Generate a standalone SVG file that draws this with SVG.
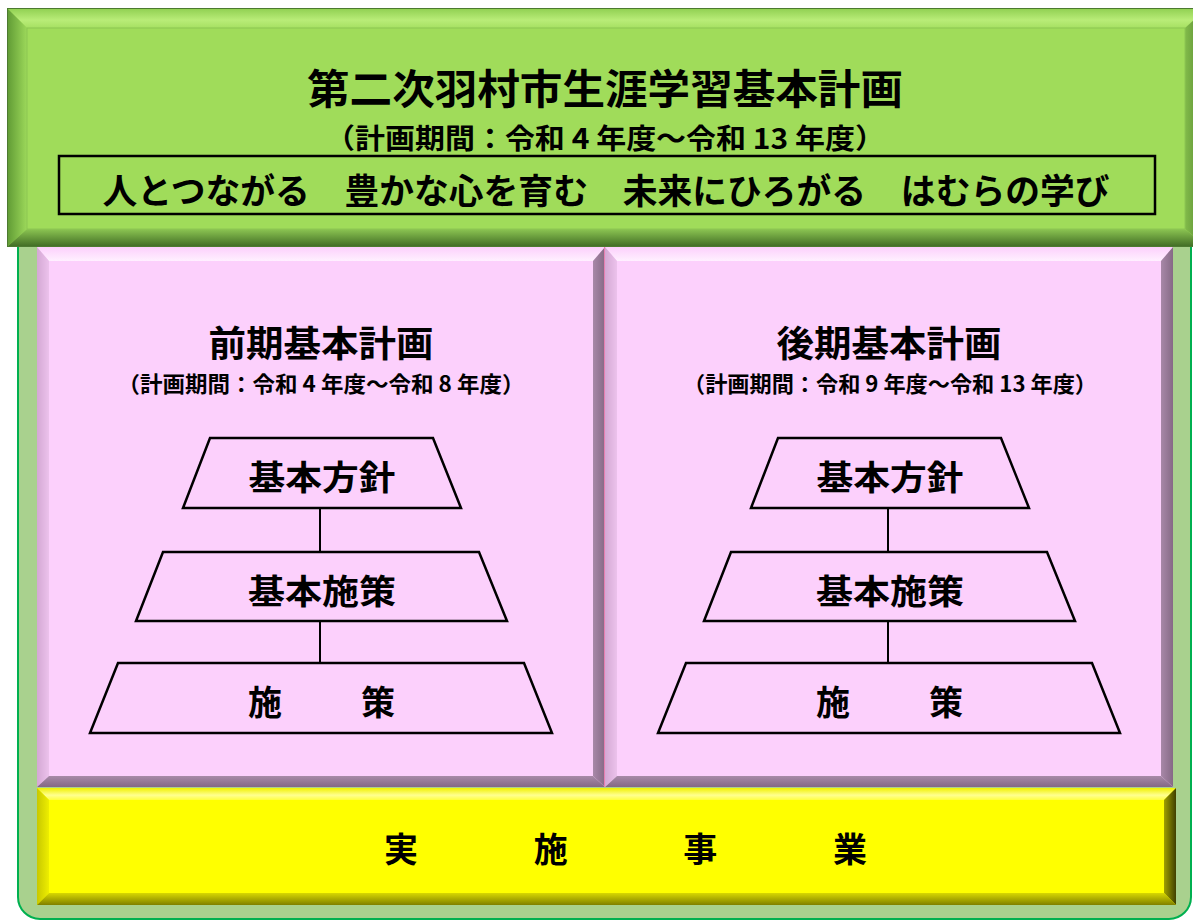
<svg xmlns="http://www.w3.org/2000/svg" width="1193" height="921" viewBox="0 0 1193 921">
<style>
text{font-family:"Noto Sans CJK JP","Noto Sans",sans-serif;font-weight:bold;fill:#000;dominant-baseline:central;text-anchor:middle}
.trap{fill:none;stroke:#000;stroke-width:2.5}
.conn line{stroke:#000;stroke-width:2}
</style>
<defs>
<linearGradient id="gTop" x1="0" y1="0" x2="0" y2="1"><stop offset="0" stop-color="#8fcf50"/><stop offset="0.6" stop-color="#b9ec78"/><stop offset="1" stop-color="#a6e062"/></linearGradient>
<linearGradient id="gBot" x1="0" y1="0" x2="0" y2="1"><stop offset="0" stop-color="#8cc552"/><stop offset="1" stop-color="#3f6a24"/></linearGradient>
<linearGradient id="gLeft" x1="0" y1="0" x2="1" y2="0"><stop offset="0" stop-color="#5f9a34"/><stop offset="1" stop-color="#9cd85a"/></linearGradient>
<linearGradient id="gRight" x1="0" y1="0" x2="1" y2="0"><stop offset="0" stop-color="#82bb4a"/><stop offset="1" stop-color="#4f7f2e"/></linearGradient>
<linearGradient id="pTop" x1="0" y1="0" x2="0" y2="1"><stop offset="0" stop-color="#fcd0fc"/><stop offset="1" stop-color="#fff0ff"/></linearGradient>
<linearGradient id="pLeft" x1="0" y1="0" x2="1" y2="0"><stop offset="0" stop-color="#d4a8d4"/><stop offset="1" stop-color="#ecc2ec"/></linearGradient>
<linearGradient id="pRight" x1="0" y1="0" x2="1" y2="0"><stop offset="0" stop-color="#a888a8"/><stop offset="1" stop-color="#866a86"/></linearGradient>
<linearGradient id="pBot" x1="0" y1="0" x2="0" y2="1"><stop offset="0" stop-color="#a88aa8"/><stop offset="1" stop-color="#846884"/></linearGradient>
<linearGradient id="yTop" x1="0" y1="0" x2="0" y2="1"><stop offset="0" stop-color="#f0f000"/><stop offset="0.6" stop-color="#ffff90"/><stop offset="1" stop-color="#ffff40"/></linearGradient>
<linearGradient id="yLeft" x1="0" y1="0" x2="1" y2="0"><stop offset="0" stop-color="#c8c800"/><stop offset="1" stop-color="#eeee00"/></linearGradient>
<linearGradient id="yRight" x1="0" y1="0" x2="1" y2="0"><stop offset="0" stop-color="#a0a000"/><stop offset="1" stop-color="#404000"/></linearGradient>
<linearGradient id="yBot" x1="0" y1="0" x2="0" y2="1"><stop offset="0" stop-color="#d8d800"/><stop offset="1" stop-color="#808000"/></linearGradient>
</defs>

<g id="outer-frame">
<rect x="18" y="200" width="1173" height="719" rx="22" ry="22" fill="#a9d18e" stroke="#00b050" stroke-width="2"/>
</g>

<g id="header">
<rect x="7" y="8" width="1200" height="239" fill="#a0dc5a"/>
<polygon points="7,8 1207,8 1187,28 27,28" fill="url(#gTop)"/>
<polygon points="7,8 27,28 27,229 7,247" fill="url(#gLeft)"/>
<polygon points="1207,8 1207,247 1185,229 1185,28" fill="url(#gRight)"/>
<polygon points="7,247 27,229 1185,229 1207,247" fill="url(#gBot)"/>
<rect x="27" y="28" width="1158" height="201" fill="#a0dc5a" stroke="#8cc652" stroke-width="1"/>
<rect x="7.5" y="8.5" width="1200" height="238" fill="none" stroke="#4c7a30" stroke-width="1"/>
<text x="605" y="86" font-size="41" textLength="596" lengthAdjust="spacingAndGlyphs">第二次羽村市生涯学習基本計画</text>
<text x="605" y="137" font-size="28" textLength="560" lengthAdjust="spacingAndGlyphs">（計画期間：令和 4 年度～令和 13 年度）</text>
<rect x="59" y="156" width="1096" height="58" fill="none" stroke="#000" stroke-width="2.5"/>
<text x="606" y="188" font-size="35" textLength="1007" lengthAdjust="spacingAndGlyphs">人とつながる　豊かな心を育む　未来にひろがる　はむらの学び</text>
</g>

<g id="panel-left">
<rect x="37" y="247" width="568" height="540" fill="#fcd0fc"/>
<polygon points="37,247 605,247 593,261 49,261" fill="url(#pTop)"/>
<polygon points="37,247 49,261 49,776 37,787" fill="url(#pLeft)"/>
<polygon points="605,247 605,787 593,776 593,261" fill="url(#pRight)"/>
<polygon points="37,787 49,776 593,776 605,787" fill="url(#pBot)"/>
<rect x="49" y="261" width="544" height="515" fill="#fcd0fc"/>
<text x="321" y="341" font-size="36" textLength="225" lengthAdjust="spacingAndGlyphs">前期基本計画</text>
<text x="321" y="382" font-size="22" textLength="407" lengthAdjust="spacingAndGlyphs">（計画期間：令和 4 年度～令和 8 年度）</text>
</g>

<g id="panel-right">
<rect x="605" y="247" width="568" height="540" fill="#fcd0fc"/>
<polygon points="605,247 1173,247 1161,261 617,261" fill="url(#pTop)"/>
<polygon points="605,247 617,261 617,776 605,787" fill="url(#pLeft)"/>
<polygon points="1173,247 1173,787 1161,776 1161,261" fill="url(#pRight)"/>
<polygon points="605,787 617,776 1161,776 1173,787" fill="url(#pBot)"/>
<rect x="617" y="261" width="544" height="515" fill="#fcd0fc"/>
<line x1="604.5" y1="247" x2="604.5" y2="787" stroke="#e77fb0" stroke-width="1"/>
<text x="889" y="341" font-size="36" textLength="225" lengthAdjust="spacingAndGlyphs">後期基本計画</text>
<text x="890" y="382" font-size="22" textLength="414" lengthAdjust="spacingAndGlyphs">（計画期間：令和 9 年度～令和 13 年度）</text>
</g>

<g id="connectors" class="conn">
<line x1="320" y1="508" x2="320" y2="552"/>
<line x1="320" y1="621" x2="320" y2="663"/>
<line x1="888" y1="508" x2="888" y2="552"/>
<line x1="888" y1="621" x2="888" y2="663"/>
</g>

<g id="left-policy">
<polygon class="trap" points="210,438 433,438 461,508 183,508"/>
<text x="322" y="475" font-size="34" textLength="147" lengthAdjust="spacingAndGlyphs">基本方針</text>
</g>
<g id="left-basic-measures">
<polygon class="trap" points="163,552 479,552 507,621 136,621"/>
<text x="322" y="589" font-size="34" textLength="148" lengthAdjust="spacingAndGlyphs">基本施策</text>
</g>
<g id="left-measures">
<polygon class="trap" points="118,663 524,663 552,733 90,733"/>
<text x="321.5" y="700" font-size="34" textLength="147" lengthAdjust="spacing">施　　策</text>
</g>

<g id="right-policy">
<polygon class="trap" points="778,438 1001,438 1029,508 751,508"/>
<text x="890" y="475" font-size="34" textLength="147" lengthAdjust="spacingAndGlyphs">基本方針</text>
</g>
<g id="right-basic-measures">
<polygon class="trap" points="731,552 1047,552 1075,621 704,621"/>
<text x="890" y="589" font-size="34" textLength="148" lengthAdjust="spacingAndGlyphs">基本施策</text>
</g>
<g id="right-measures">
<polygon class="trap" points="686,663 1092,663 1120,733 658,733"/>
<text x="889.5" y="700" font-size="34" textLength="147" lengthAdjust="spacing">施　　策</text>
</g>

<g id="implementation">
<rect x="37" y="788" width="1139" height="117" fill="#ffff00"/>
<polygon points="37,788 1176,788 1164,800 49,800" fill="url(#yTop)"/>
<polygon points="37,788 49,800 49,893 37,905" fill="url(#yLeft)"/>
<polygon points="1176,788 1176,905 1164,893 1164,800" fill="url(#yRight)"/>
<polygon points="37,905 49,893 1164,893 1176,905" fill="url(#yBot)"/>
<rect x="49" y="800" width="1115" height="93" fill="#ffff00"/>
<text x="625.5" y="847" font-size="34" textLength="483" lengthAdjust="spacing">実　　施　　事　　業</text>
</g>
</svg>
